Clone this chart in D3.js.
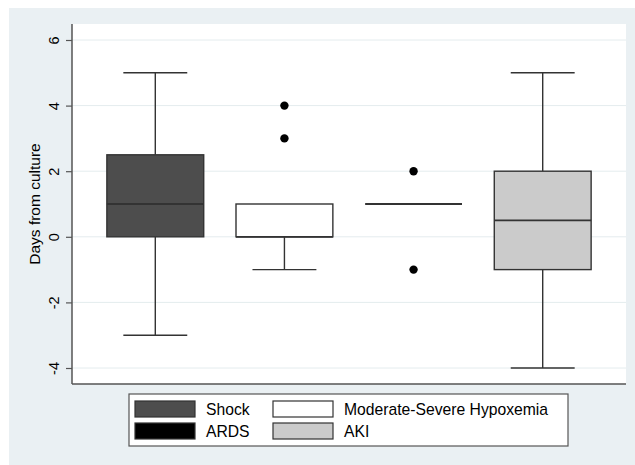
<!DOCTYPE html>
<html lang="en">
<head>
    <meta charset="UTF-8">
    <title>Days from culture by organ dysfunction</title>
    <script src="https://d3js.org/d3.v7.min.js"></script>
    <style>
        body { margin: 0; background: #fff; }
        text { font-family: "Liberation Sans", Arial, sans-serif; fill: #000; }
    </style>
</head>
<body>
    <svg id="chart" width="635" height="465"></svg>

    <script>
        // box plot summaries
        const groups = ['Shock', 'Moderate-Severe Hypoxemia', 'ARDS', 'AKI'];
        const lowWhisker = [-3, -1, 1, -4];
        const q1 = [0, 0, 1, -1];
        const median = [1, 0, 1, 0.5];
        const q3 = [2.5, 1, 1, 2];
        const highWhisker = [5, 1, 1, 5];
        const outliers = [[], [3, 4], [2, -1], []];
        const yTicks = [-4, -2, 0, 2, 4, 6];
        const yTitle = 'Days from culture';

        const fills = ['#4d4d4d', '#ffffff', '#000000', '#cbcbcb'];

        const data = groups.map((g, i) => ({
            group: g,
            lo: lowWhisker[i], q1: q1[i], med: median[i], q3: q3[i], hi: highWhisker[i],
            out: outliers[i], fill: fills[i]
        }));

        const svg = d3.select('#chart');
        const plot = { left: 72, right: 626, top: 24, bottom: 384 };

        // outer panel and plot region
        svg.append('rect')
            .attr('x', 9).attr('y', 8).attr('width', 626).attr('height', 457)
            .attr('fill', '#eaf0f3');
        svg.append('rect')
            .attr('x', plot.left).attr('y', plot.top)
            .attr('width', plot.right - plot.left).attr('height', plot.bottom - plot.top)
            .attr('fill', '#fff');

        const x = d3.scaleBand()
            .domain(groups)
            .range([plot.left, plot.right])
            .paddingInner(0.25)
            .paddingOuter(0.27);

        const y = d3.scaleLinear()
            .domain([-4, 6])
            .range([plot.bottom - 16, plot.top + 16]);

        // gridlines
        svg.append('g')
            .selectAll('line')
            .data(yTicks)
            .join('line')
            .attr('x1', plot.left).attr('x2', plot.right)
            .attr('y1', d => y(d)).attr('y2', d => y(d))
            .attr('stroke', '#e4ecee')
            .attr('stroke-width', 1);

        // y axis
        const yAxis = svg.append('g')
            .attr('transform', `translate(${plot.left},0)`)
            .call(d3.axisLeft(y).tickValues(yTicks).tickSize(6).tickPadding(0).tickFormat(d3.format('d')));
        yAxis.select('.domain').remove();
        yAxis.selectAll('.tick line').attr('stroke', '#555').attr('stroke-width', 1.2);
        yAxis.selectAll('.tick text')
            .attr('transform', 'translate(-18,0) rotate(-90)')
            .attr('x', 0).attr('dy', '0.35em')
            .attr('text-anchor', 'middle')
            .style('font-size', '14.5px')
            .text(d => d < 0 ? '-' + Math.abs(d) : d);

        // axis lines (left and bottom only)
        svg.append('line')
            .attr('x1', plot.left).attr('x2', plot.left)
            .attr('y1', plot.top).attr('y2', plot.bottom)
            .attr('stroke', '#555').attr('stroke-width', 1.5);
        svg.append('line')
            .attr('x1', plot.left).attr('x2', plot.right)
            .attr('y1', plot.bottom).attr('y2', plot.bottom)
            .attr('stroke', '#555').attr('stroke-width', 1.5);

        svg.append('text')
            .attr('transform', `translate(35,${(plot.top + plot.bottom) / 2}) rotate(-90)`)
            .attr('text-anchor', 'middle')
            .attr('dy', '0.35em')
            .style('font-size', '15.5px')
            .text(yTitle);

        // boxes
        const bw = x.bandwidth();
        const capW = bw * 0.66;
        const boxes = svg.append('g')
            .selectAll('g')
            .data(data)
            .join('g')
            .attr('transform', d => `translate(${x(d.group) + bw / 2},0)`);

        const stroke = '#333';

        boxes.append('line')
            .attr('y1', d => y(d.lo)).attr('y2', d => y(d.q1))
            .attr('stroke', stroke).attr('stroke-width', 1.4);
        boxes.append('line')
            .attr('y1', d => y(d.q3)).attr('y2', d => y(d.hi))
            .attr('stroke', stroke).attr('stroke-width', 1.4);
        boxes.filter(d => d.lo < d.q1).append('line')
            .attr('x1', -capW / 2).attr('x2', capW / 2)
            .attr('y1', d => y(d.lo)).attr('y2', d => y(d.lo))
            .attr('stroke', stroke).attr('stroke-width', 1.4);
        boxes.filter(d => d.hi > d.q3).append('line')
            .attr('x1', -capW / 2).attr('x2', capW / 2)
            .attr('y1', d => y(d.hi)).attr('y2', d => y(d.hi))
            .attr('stroke', stroke).attr('stroke-width', 1.4);

        boxes.append('rect')
            .attr('x', -bw / 2).attr('width', bw)
            .attr('y', d => y(d.q3))
            .attr('height', d => y(d.q1) - y(d.q3))
            .attr('fill', d => d.fill)
            .attr('stroke', stroke).attr('stroke-width', 1.4);
        boxes.append('line')
            .attr('x1', -bw / 2).attr('x2', bw / 2)
            .attr('y1', d => y(d.med)).attr('y2', d => y(d.med))
            .attr('stroke', stroke).attr('stroke-width', 1.8);

        boxes.selectAll('circle')
            .data(d => d.out)
            .join('circle')
            .attr('cx', 0)
            .attr('cy', d => y(d))
            .attr('r', 4.2)
            .attr('fill', '#000');

        // legend
        const leg = svg.append('g').attr('transform', 'translate(129,394)');
        leg.append('rect')
            .attr('width', 439).attr('height', 52)
            .attr('fill', '#fff')
            .attr('stroke', '#555').attr('stroke-width', 1.2);

        const items = leg.selectAll('.legend-item')
            .data(data)
            .join('g')
            .attr('class', 'legend-item')
            .attr('transform', (d, i) => `translate(${6 + (i % 2) * 138},${7 + Math.floor(i / 2) * 22})`);
        items.append('rect')
            .attr('width', 60).attr('height', 16)
            .attr('fill', d => d.fill)
            .attr('stroke', stroke).attr('stroke-width', 1.2);
        items.append('text')
            .attr('x', 71).attr('y', 8)
            .attr('dy', '0.35em')
            .style('font-size', '15.7px')
            .text(d => d.group);
    </script>
</body>
</html>
